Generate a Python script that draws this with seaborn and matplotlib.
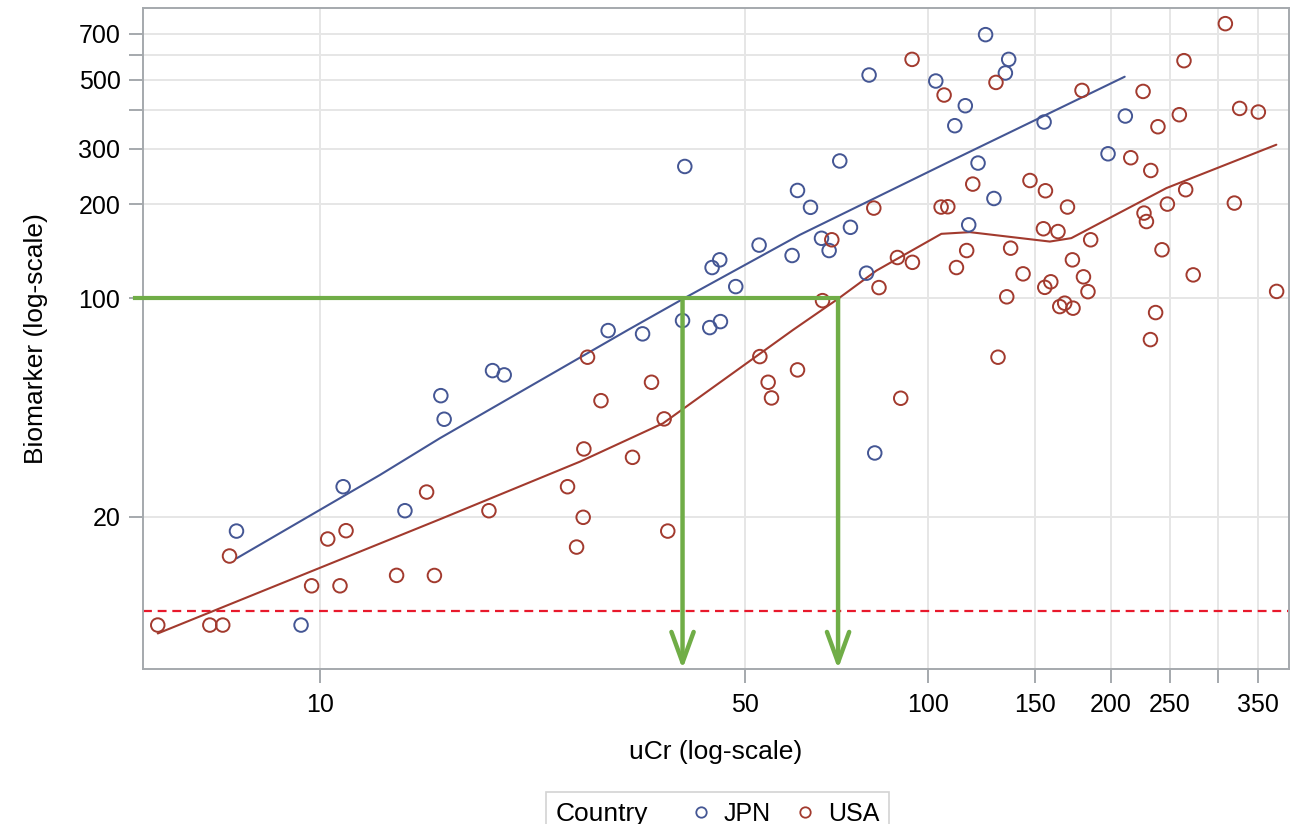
import numpy as np
import pandas as pd
import matplotlib
matplotlib.use("Agg")
import matplotlib.pyplot as plt
import seaborn as sns
from matplotlib.lines import Line2D
from matplotlib.offsetbox import HPacker

# ---------------- data ----------------
jpn_ucr = [7.29, 9.31, 10.92, 13.80, 15.81, 16.01, 19.23, 20.10, 29.80, 33.95,
           39.84, 39.50, 43.79, 45.60, 44.18, 45.48, 48.32, 52.79, 59.82, 61.06,
           64.14, 71.66, 66.87, 68.83, 74.62, 79.30, 80.08, 81.82, 103.1, 110.8,
           115.3, 116.8, 121.0, 128.5, 124.5, 135.9, 134.2, 155.4, 198.0, 211.4]
jpn_bio = [18.0, 9.01, 24.95, 20.91, 48.78, 41.01, 58.66, 56.84, 78.77, 76.89,
           263.7, 84.79, 80.52, 84.16, 125.3, 132.6, 108.9, 147.8, 136.9, 221.0,
           195.2, 274.6, 155.4, 142.0, 168.5, 120.2, 517.0, 31.99, 494.7, 356.0,
           412.4, 171.6, 270.4, 208.3, 696.0, 580.1, 524.8, 365.8, 289.5, 382.3]

usa_ucr = [5.41, 6.59, 6.92, 7.10, 9.69, 10.30, 10.79, 11.04, 13.37, 14.98,
           15.43, 18.97, 25.55, 27.11, 26.44, 27.18, 27.56, 29.00, 32.68, 35.12,
           36.84, 37.35, 52.94, 54.63, 55.33, 61.06, 67.13, 69.53, 81.52, 83.14,
           89.16, 90.28, 94.24, 94.37, 105.2, 107.9, 106.4, 111.5, 115.9, 118.6,
           129.5, 130.5, 134.9, 136.9, 143.5, 147.3, 155.0, 156.2, 155.8, 159.4,
           163.8, 164.9, 168.0, 169.8, 173.4, 173.0, 179.4, 180.4, 183.5, 185.4,
           215.8, 226.1, 226.9, 229.0, 232.8, 232.5, 237.1, 239.2, 242.9, 247.9,
           259.4, 264.0, 265.7, 273.4, 308.8, 319.5, 326.0, 349.9, 375.0]
usa_bio = [9.01, 9.01, 9.01, 14.98, 12.03, 16.98, 12.03, 18.05, 12.99, 23.99,
           12.98, 20.91, 24.95, 19.92, 16.00, 32.95, 64.75, 47.01, 30.98, 53.84,
           41.11, 18.0, 65.04, 53.84, 47.97, 58.97, 98.2, 153.7, 194.1, 108.1,
           134.9, 47.86, 580.1, 130.2, 195.6, 196.0, 446.2, 125.3, 142.0, 231.6,
           489.6, 64.75, 101.0, 144.5, 119.6, 237.8, 166.7, 220.5, 108.3, 112.8,
           163.3, 93.99, 96.38, 195.6, 92.90, 132.6, 461.6, 117.0, 104.9, 153.7,
           281.2, 458.2, 187.1, 175.8, 256.0, 73.71, 89.94, 353.3, 142.8, 199.9,
           386.0, 574.6, 222.2, 118.7, 754.7, 201.4, 404.3, 393.7, 105.1]

# fitted curves
jpn_fit_ucr = [7.29, 12.55, 15.75, 32.14, 39.59, 61.6, 108.7, 210.9]
jpn_fit_bio = [14.72, 27.20, 35.65, 79.19, 99.5, 159.4, 273.6, 510.6]
usa_fit_ucr = [5.41, 15.75, 26.77, 36.7, 60.05, 71.19, 82.34, 105.3, 117.3,
               158.8, 172.3, 247.0, 374.6]
usa_fit_bio = [8.47, 19.63, 30.0, 39.81, 79.19, 99.5, 122.5, 160.6, 162.6,
               151.7, 155.6, 224.9, 309.5]

countries = ["JPN", "USA"]
x_ticks = [10, 50, 100, 150, 200, 250, 300, 350]
x_tick_labels = ["10", "50", "100", "150", "200", "250", "", "350"]
y_ticks = [20, 100, 200, 300, 400, 500, 600, 700]
y_tick_labels = ["20", "100", "200", "300", "", "500", "", "700"]
lod_value = 10
target_bio = 100
jpn_cross = 39.5
usa_cross = 71.2

# ---------------- style ----------------
sns.set_theme(style="white")
plt.rcParams['font.family'] = ['Liberation Sans', 'DejaVu Sans']
plt.rcParams['text.color'] = 'black'

pal = {"JPN": "#445694", "USA": "#A23A2E"}
green = "#70AD47"
lod_red = "#E8192C"
axis_gray = "#A5A9AD"
grid_gray = "#E6E6E6"

W, H = 1291, 824
fig = plt.figure(figsize=(W / 100, H / 100), dpi=100)
ax = fig.add_axes([142.7 / W, 1 - 669 / H, (1289 - 142.7) / W, (669 - 8.3) / H])
ax.set_xscale('log')
ax.set_yscale('log')

xlim = (5.11, 393)
ylim = (6.52, 845)

df = pd.DataFrame({
    "uCr": jpn_ucr + usa_ucr,
    "Biomarker": jpn_bio + usa_bio,
    "Country": ["JPN"] * len(jpn_ucr) + ["USA"] * len(usa_ucr),
})
fit = pd.DataFrame({
    "uCr": jpn_fit_ucr + usa_fit_ucr,
    "Biomarker": jpn_fit_bio + usa_fit_bio,
    "Country": ["JPN"] * len(jpn_fit_ucr) + ["USA"] * len(usa_fit_ucr),
})

# LOD reference line
ax.axhline(lod_value, color=lod_red, lw=1.6, ls=(0, (4.0, 2.6)), zorder=2)

# fit lines
sns.lineplot(data=fit, x="uCr", y="Biomarker", hue="Country", palette=pal,
             hue_order=countries, estimator=None, sort=False, lw=1.5,
             legend=False, ax=ax, zorder=3)

# open-circle scatter
n_before = len(ax.collections)
sns.scatterplot(data=df, x="uCr", y="Biomarker", hue="Country", palette=pal,
                hue_order=countries, s=95, linewidth=1.4, legend=False,
                ax=ax, zorder=4)
pts = ax.collections[n_before]
fc = pts.get_facecolors()
pts.set_edgecolors(fc)
pts.set_facecolors('none')

ax.set_xlim(*xlim)
ax.set_ylim(*ylim)

# green guide lines with arrows
ax.plot([4.96, usa_cross], [target_bio, target_bio], color=green, lw=3,
        solid_capstyle='projecting', clip_on=False, zorder=6)
for xc in [jpn_cross, usa_cross]:
    ax.annotate('', xy=(xc, ylim[0]), xytext=(xc, target_bio),
                arrowprops=dict(arrowstyle='->,head_length=22,head_width=8',
                                color=green, lw=3.2, shrinkA=0, shrinkB=0,
                                mutation_scale=1),
                zorder=6)

# ticks / grid
ax.set_xticks(x_ticks)
ax.set_xticklabels(x_tick_labels)
ax.set_yticks(y_ticks)
ax.set_yticklabels(y_tick_labels)
ax.minorticks_off()
ax.grid(True, which='major', color=grid_gray, lw=1.4)
ax.set_axisbelow(True)
for sp in ax.spines.values():
    sp.set_visible(True)
    sp.set_color(axis_gray)
    sp.set_linewidth(1.4)
ax.tick_params(axis='both', which='major', length=10, width=1.4,
               color=axis_gray, labelsize=18, labelcolor='black',
               bottom=True, left=True)
ax.tick_params(axis='x', pad=7)
ax.tick_params(axis='y', pad=6)

ax.set_xlabel("uCr (log-scale)", fontsize=19, color='black', labelpad=17)
ax.set_ylabel("Biomarker (log-scale)", fontsize=19, color='black', labelpad=22)

# legend at bottom, title on the left
handles = [Line2D([], [], ls='none', marker='o', markersize=7.5,
                  markerfacecolor='none', markeredgecolor=pal[c],
                  markeredgewidth=1.3) for c in countries]
leg = fig.legend(handles, countries, loc='upper center',
                 bbox_to_anchor=(717.5 / W, 1 - 792 / H), ncol=2,
                 title="Country", fontsize=18, title_fontsize=19,
                 frameon=True, fancybox=False, handlelength=0.6,
                 handletextpad=0.6, columnspacing=1.1, borderpad=0.4,
                 borderaxespad=0)
leg.get_frame().set_edgecolor('#C8C8C8')
leg.get_frame().set_linewidth(1.2)
for t in leg.get_texts():
    t.set_color('black')
leg.get_title().set_color('black')
try:
    fs = leg._fontsize
    newbox = HPacker(pad=leg.borderpad * fs, sep=1.8 * fs, align="center",
                     children=[leg._legend_title_box, leg._legend_handle_box])
    newbox.set_figure(fig)
    newbox.axes = None
    leg._legend_box = newbox
    newbox.set_offset(leg._findoffset)
except Exception:
    pass

fig.savefig("out.png", dpi=100)
